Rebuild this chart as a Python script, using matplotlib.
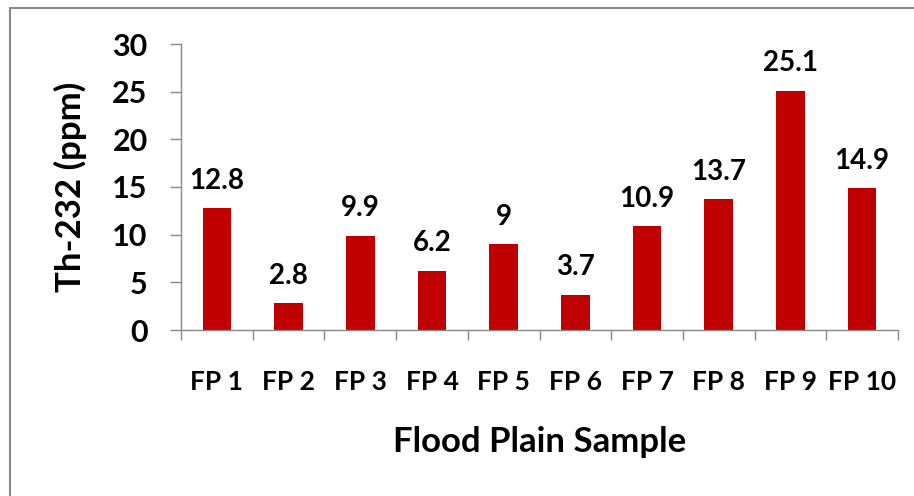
import matplotlib
matplotlib.use("Agg")
import matplotlib.pyplot as plt
from matplotlib.patches import Rectangle
import numpy as np

# data
samples = ['FP 1', 'FP 2', 'FP 3', 'FP 4', 'FP 5', 'FP 6', 'FP 7', 'FP 8', 'FP 9', 'FP 10']
th232 = [12.8, 2.8, 9.9, 6.2, 9, 3.7, 10.9, 13.7, 25.1, 14.9]
value_labels = ['12.8', '2.8', '9.9', '6.2', '9', '3.7', '10.9', '13.7', '25.1', '14.9']
y_ticks = [0, 5, 10, 15, 20, 25, 30]

plt.rcParams['font.family'] = ['Lato', 'DejaVu Sans']
plt.rcParams['font.weight'] = 'bold'

fig = plt.figure(figsize=(9.14, 4.96), dpi=100)

# chart border (cut off on the right and bottom like the original)
fig.patches.append(Rectangle((10 / 914, -0.1), 1.2, 1.1 - 8 / 496,
                             transform=fig.transFigure, fill=False,
                             edgecolor='#898989', linewidth=1.5))

ax = fig.add_axes([181 / 914, 1 - 330 / 496, 717 / 914, 286 / 496])

x = np.arange(len(samples))
ax.bar(x, th232, width=0.4, color='#C00000')

for xi, v, lab in zip(x, th232, value_labels):
    ax.annotate(lab, (xi, v), xytext=(0, 14), textcoords='offset points',
                ha='center', va='baseline', fontsize=20, fontweight='bold')

ax.set_xlim(-0.5, len(samples) - 0.5)
ax.set_ylim(0, 30)
ax.set_yticks(y_ticks)
ax.tick_params(axis='y', labelsize=22, length=8, width=1, color='#888888', pad=16)

ax.set_xticks(x)
ax.set_xticklabels(samples)
ax.set_xticks(np.arange(len(samples) + 1) - 0.5, minor=True)
ax.tick_params(axis='x', which='major', length=0, labelsize=19, pad=29)
ax.tick_params(axis='x', which='minor', length=7, width=1, color='#888888')

for s in ['top', 'right']:
    ax.spines[s].set_visible(False)
for s in ['left', 'bottom']:
    ax.spines[s].set_color('#888888')
    ax.spines[s].set_linewidth(1)

ax.set_ylabel('Th-232 (ppm)', fontsize=25, fontweight='bold', labelpad=18)
ax.set_xlabel('Flood Plain Sample', fontsize=25, fontweight='bold', labelpad=23)

fig.savefig('out.png', dpi=100)
